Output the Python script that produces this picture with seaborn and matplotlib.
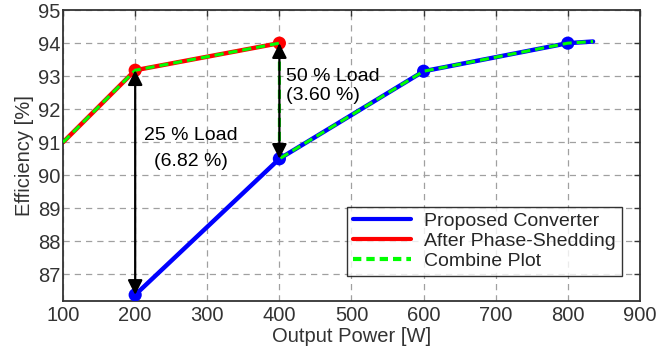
import matplotlib.pyplot as plt
import pandas as pd
import seaborn as sns

# data
proposed_power = [200, 400, 600, 800, 835]
proposed_eff = [86.38, 90.5, 93.15, 94.0, 94.05]
proposed_marked = [True, True, True, True, False]

shedding_power = [100, 200, 400]
shedding_eff = [91.0, 93.18, 94.0]
shedding_marked = [False, True, True]

combine_power = [100, 200, 400, 400, 600, 800, 835]
combine_eff = [91.0, 93.18, 94.0, 90.5, 93.15, 94.0, 94.05]

x_ticks = [100, 200, 300, 400, 500, 600, 700, 800, 900]
y_ticks = [87, 88, 89, 90, 91, 92, 93, 94, 95]


def build_frame(power, eff, name):
    return pd.DataFrame({"power": power, "eff": eff, "series": name})


sns.set_style("whitegrid")
plt.rcParams["font.family"] = ["Liberation Sans", "DejaVu Sans"]

fig = plt.figure(figsize=(6.57, 3.49), dpi=100)
ax = fig.add_axes([0.096, 0.138, 0.878, 0.833])

df_prop = build_frame(proposed_power, proposed_eff, "Proposed Converter")
df_shed = build_frame(shedding_power, shedding_eff, "After Phase-Shedding")
df_comb = build_frame(combine_power, combine_eff, "Combine Plot")

sns.lineplot(data=df_prop, x="power", y="eff", color="#0000ff", lw=3.2,
             sort=False, estimator=None, ax=ax, label="Proposed Converter")
sns.lineplot(data=df_shed, x="power", y="eff", color="#ff0000", lw=3.2,
             sort=False, estimator=None, ax=ax, label="After Phase-Shedding")

mark_prop = df_prop[proposed_marked]
mark_shed = df_shed[shedding_marked]
sns.scatterplot(data=mark_prop, x="power", y="eff", color="#0000ff", s=90,
                edgecolor="none", ax=ax, zorder=3, legend=False)
sns.scatterplot(data=mark_shed, x="power", y="eff", color="#ff0000", s=90,
                edgecolor="none", ax=ax, zorder=3, legend=False)

sns.lineplot(data=df_comb, x="power", y="eff", color="#00ff00", lw=2.2,
             sort=False, estimator=None, ax=ax, label="Combine Plot",
             dashes=False, zorder=4)
ax.lines[-1].set_dashes([3, 1.6])

# load-difference arrows
arrow_style = dict(arrowstyle="<|-|>", color="black", lw=1.6,
                   mutation_scale=22, shrinkA=0, shrinkB=0)
ax.annotate("", xy=(200, proposed_eff[0]), xytext=(200, shedding_eff[1]),
            arrowprops=arrow_style, zorder=5)
ax.annotate("", xy=(400, proposed_eff[1]), xytext=(400, shedding_eff[2]),
            arrowprops=arrow_style, zorder=5)

ax.text(277, 90.8, "25 % Load\n(6.82 %)", ha="center", va="center",
        fontsize=14, linespacing=1.7, color="black")
ax.text(409, 92.7, "50 % Load\n(3.60 %)", ha="left", va="center",
        fontsize=14, linespacing=1.2, color="black")

ax.set_xlim(100, 900)
ax.set_ylim(86.2, 95)
ax.set_xticks(x_ticks)
ax.set_yticks(y_ticks)
ax.grid(True, color="#a0a0a0", linestyle=(0, (5, 4)), lw=0.9)
ax.tick_params(direction="in", length=4, width=1, top=True, right=True,
               labelsize=14.5, colors="#333333", pad=2)
ax.tick_params(axis="x", pad=4)
for spine in ax.spines.values():
    spine.set_color("#333333")
    spine.set_linewidth(1.3)

ax.set_xlabel("Output Power [W]", fontsize=14.5, color="#333333", labelpad=1)
ax.set_ylabel("Efficiency [%]", fontsize=14.5, color="#333333", labelpad=3)

leg = ax.legend(loc="lower right", bbox_to_anchor=(0.969, 0.085), fontsize=14,
                frameon=True, fancybox=False, edgecolor="black",
                handlelength=3.0, borderpad=0.3, labelspacing=0.13,
                handletextpad=0.7, borderaxespad=0)
leg.get_frame().set_linewidth(1.0)
for line in leg.get_lines():
    line.set_linewidth(3)
leg.get_lines()[2].set_linestyle((0, (2, 1.2)))

fig.savefig("out.png", dpi=100)
